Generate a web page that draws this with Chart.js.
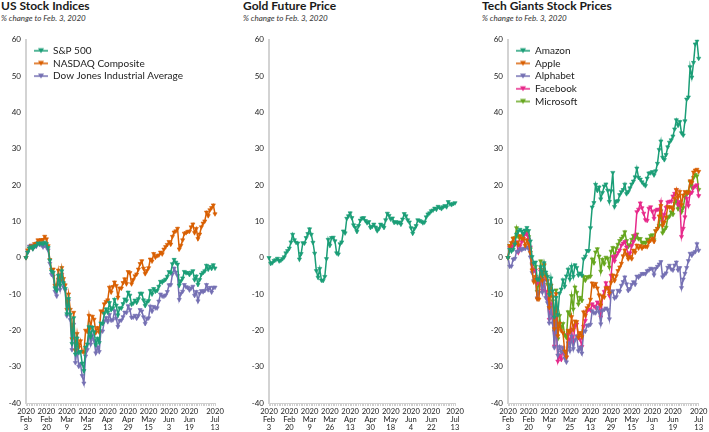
<!DOCTYPE html>
<html><head><meta charset="utf-8">
<script src="https://cdn.jsdelivr.net/npm/chart.js@4.4.1/dist/chart.umd.min.js"></script>
<style>
html,body{margin:0;padding:0;background:#fff;}
#wrap{position:relative;width:709px;height:432px;overflow:hidden;font-family:Lato,sans-serif;}
.t{position:absolute;top:0px;font-weight:700;font-size:12px;line-height:12px;color:#1a1a1a;white-space:nowrap;}
.s{position:absolute;top:13.6px;font-style:italic;font-size:8px;line-height:8px;color:#333;white-space:nowrap;}
canvas{position:absolute;top:30px;}
</style></head>
<body><div id="wrap">
<div class="t" style="left:1px">US Stock Indices</div>
<div class="s" style="left:1px">% change to Feb. 3, 2020</div>
<div class="t" style="left:243px">Gold Future Price</div>
<div class="s" style="left:243px">% change to Feb. 3, 2020</div>
<div class="t" style="left:482px">Tech Giants Stock Prices</div>
<div class="s" style="left:482px">% change to Feb. 3, 2020</div>
<canvas id="c1" width="236" height="402" style="left:0px"></canvas>
<canvas id="c2" width="236" height="402" style="left:236px"></canvas>
<canvas id="c3" width="237" height="402" style="left:472px"></canvas>
</div>
<script>
// ---------- categories ----------
const stockDates = [
"2020-02-03","2020-02-04","2020-02-05","2020-02-06","2020-02-07","2020-02-10","2020-02-11","2020-02-12","2020-02-13","2020-02-14","2020-02-18","2020-02-19","2020-02-20","2020-02-21","2020-02-24","2020-02-25","2020-02-26","2020-02-27","2020-02-28",
"2020-03-02","2020-03-03","2020-03-04","2020-03-05","2020-03-06","2020-03-09","2020-03-10","2020-03-11","2020-03-12","2020-03-13","2020-03-16","2020-03-17","2020-03-18","2020-03-19","2020-03-20","2020-03-23","2020-03-24","2020-03-25","2020-03-26","2020-03-27","2020-03-30","2020-03-31",
"2020-04-01","2020-04-02","2020-04-03","2020-04-06","2020-04-07","2020-04-08","2020-04-09","2020-04-13","2020-04-14","2020-04-15","2020-04-16","2020-04-17","2020-04-20","2020-04-21","2020-04-22","2020-04-23","2020-04-24","2020-04-27","2020-04-28","2020-04-29","2020-04-30",
"2020-05-01","2020-05-04","2020-05-05","2020-05-06","2020-05-07","2020-05-08","2020-05-11","2020-05-12","2020-05-13","2020-05-14","2020-05-15","2020-05-18","2020-05-19","2020-05-20","2020-05-21","2020-05-22","2020-05-26","2020-05-27","2020-05-28","2020-05-29",
"2020-06-01","2020-06-02","2020-06-03","2020-06-04","2020-06-05","2020-06-08","2020-06-09","2020-06-10","2020-06-11","2020-06-12","2020-06-15","2020-06-16","2020-06-17","2020-06-18","2020-06-19","2020-06-22","2020-06-23","2020-06-24","2020-06-25","2020-06-26","2020-06-29","2020-06-30",
"2020-07-01","2020-07-02","2020-07-06","2020-07-07","2020-07-08","2020-07-09","2020-07-10","2020-07-13"];
const goldDates = [
"2020-02-03","2020-02-04","2020-02-05","2020-02-06","2020-02-07","2020-02-10","2020-02-11","2020-02-12","2020-02-13","2020-02-14","2020-02-18","2020-02-19","2020-02-20","2020-02-21","2020-02-24","2020-02-25","2020-02-26","2020-02-27","2020-02-28",
"2020-03-02","2020-03-03","2020-03-04","2020-03-05","2020-03-06","2020-03-09","2020-03-10","2020-03-11","2020-03-12","2020-03-13","2020-03-17","2020-03-18","2020-03-19","2020-03-20","2020-03-23","2020-03-24","2020-03-25","2020-03-26","2020-03-27","2020-03-30","2020-03-31",
"2020-04-01","2020-04-02","2020-04-03","2020-04-06","2020-04-07","2020-04-08","2020-04-09","2020-04-10","2020-04-13","2020-04-14","2020-04-15","2020-04-16","2020-04-17","2020-04-20","2020-04-22","2020-04-23","2020-04-24","2020-04-27","2020-04-28","2020-04-29","2020-04-30",
"2020-05-01","2020-05-04","2020-05-05","2020-05-06","2020-05-07","2020-05-08","2020-05-11","2020-05-12","2020-05-13","2020-05-14","2020-05-15","2020-05-18","2020-05-19","2020-05-20","2020-05-21","2020-05-22","2020-05-26","2020-05-27","2020-05-28","2020-05-29",
"2020-06-01","2020-06-02","2020-06-03","2020-06-04","2020-06-05","2020-06-08","2020-06-09","2020-06-10","2020-06-11","2020-06-12","2020-06-15","2020-06-16","2020-06-17","2020-06-18","2020-06-19","2020-06-22","2020-06-23","2020-06-24","2020-06-25","2020-06-26","2020-06-29","2020-06-30",
"2020-07-01","2020-07-02","2020-07-06","2020-07-07","2020-07-08","2020-07-09","2020-07-10","2020-07-13"];
// indices of the labelled ticks
const stockTickIdx = [0,12,24,36,48,60,72,84,96,111];
const goldTickIdx  = [0,12,24,36,48,60,72,84,96,110];
const yTicks = {min:-40, max:60, step:10};

// ---------- series (% change to Feb. 3, 2020) ----------
const sp500 = [0,1.50,2.64,2.98,2.43,3.18,3.35,4.02,3.85,4.04,3.74,4.22,3.83,2.73,-0.71,-3.72,-4.08,-8.32,-9.07,
-4.88,-7.56,-3.66,-6.92,-8.51,-15.46,-11.29,-15.62,-23.65,-16.56,-26.56,-22.15,-26.19,-25.84,-29.06,-31.13,-24.67,-23.80,-19.05,-21.77,-19.15,-20.45,
-23.96,-22.22,-23.40,-18.01,-18.14,-15.36,-14.13,-15.00,-12.40,-14.33,-13.83,-11.52,-13.10,-15.77,-13.84,-13.89,-12.69,-11.40,-11.87,-9.52,-10.36,
-12.87,-12.50,-11.71,-12.33,-11.32,-9.82,-9.81,-11.66,-13.20,-12.20,-11.86,-9.08,-10.03,-8.54,-9.25,-9.03,-7.92,-6.55,-6.75,-6.30,
-5.95,-5.17,-3.88,-4.20,-1.69,-0.51,-1.28,-1.81,-7.60,-6.39,-5.61,-3.82,-4.17,-4.11,-4.65,-4.03,-3.62,-6.11,-5.08,-7.38,-6.02,-4.57,
-4.10,-3.66,-2.13,-3.19,-2.43,-2.98,-1.97,-2.88];
const nasdaq = [0,2.10,2.54,3.22,2.66,3.83,3.94,4.88,4.73,4.94,4.95,5.86,5.15,3.27,-0.56,-3.32,-3.16,-7.62,-7.61,
-3.46,-6.35,-2.75,-5.77,-7.52,-14.26,-10.02,-14.25,-22.34,-15.08,-25.54,-20.91,-24.62,-22.89,-25.81,-26.02,-20.01,-20.37,-15.92,-19.10,-16.17,-16.97,
-20.63,-19.26,-20.49,-14.67,-14.95,-12.75,-12.08,-11.66,-8.17,-9.49,-7.99,-6.72,-7.69,-10.89,-8.39,-8.40,-6.89,-5.86,-7.18,-3.87,-4.14,
-7.21,-6.07,-5.01,-4.52,-3.17,-1.64,-0.87,-2.92,-4.42,-3.56,-2.79,-0.42,-0.95,1.10,0.12,0.55,0.72,1.50,1.03,2.33,
3.00,3.61,4.42,3.69,5.83,7.02,7.34,8.05,2.37,3.40,4.88,6.71,6.87,7.22,7.25,8.44,9.25,6.86,8.02,5.22,6.48,8.47,
9.50,10.07,12.51,11.54,13.15,13.74,14.49,12.05];
const dowJones = [0,1.44,3.14,3.45,2.47,3.09,3.09,4.05,3.60,3.52,2.93,3.34,2.89,2.09,-1.55,-4.64,-5.08,-9.27,-10.53,
-5.97,-8.74,-4.61,-8.02,-8.93,-16.02,-11.91,-17.07,-25.35,-18.36,-28.91,-25.22,-29.93,-29.27,-32.49,-34.54,-27.09,-25.35,-20.59,-23.81,-21.38,-22.83,
-26.25,-24.60,-25.87,-20.14,-20.23,-17.49,-16.48,-17.64,-15.67,-17.24,-17.12,-14.64,-16.72,-18.95,-17.34,-17.20,-16.28,-15.02,-15.13,-13.26,-14.28,
-16.47,-16.37,-15.90,-16.67,-15.93,-14.33,-14.71,-16.32,-18.14,-16.81,-16.60,-13.39,-14.76,-13.46,-13.82,-13.85,-11.99,-10.04,-10.56,-10.62,
-10.30,-9.36,-7.50,-7.46,-4.54,-2.91,-3.97,-4.96,-11.52,-9.84,-9.28,-7.43,-8.03,-8.17,-8.90,-8.36,-7.90,-10.40,-9.35,-11.92,-9.87,-9.11,
-9.38,-9.06,-7.44,-8.84,-8.21,-9.49,-8.18,-8.15];
const gold = [0,-1.6,-1.4,-0.8,-0.6,-0.2,-0.9,-0.7,-0.3,0.2,1.3,1.9,2.6,4.3,6.4,4.9,4.2,4.0,-0.4,1.1,4.1,4.0,5.5,6.6,7.9,
6.4,4.2,1.2,-3.6,-5.4,-3.0,-6.2,-6.3,-5.2,-0.3,5.0,3.4,
5.5,5.6,4.6,1.3,1.0,3.8,4.3,7.3,6.8,10.8,11.5,12.3,
11.0,9.0,8.3,7.2,8.8,10.3,10.9,11.0,10.2,9.6,9.9,8.3,
8.6,9.2,8.4,7.4,8.0,9.2,8.9,8.3,10.4,12.2,11.6,10.6,
10.9,9.7,9.9,9.6,9.8,9.2,10.6,12.1,11.5,10.4,9.8,8.2,
6.7,8.0,8.8,10.4,10.2,10.0,9.6,9.8,11.2,12.0,12.3,12.9,
13.1,13.6,13.3,14.1,13.8,13.5,14.0,14.3,14.0,15.4,14.8,14.6,14.9,15.1];
const amazon = [0,2.27,1.78,2.30,3.75,6.47,7.31,7.77,7.27,6.52,7.56,8.28,7.43,4.58,0.25,-1.57,-1.23,-5.98,-6.01,
-2.51,-4.75,-1.42,-4.00,-5.14,-10.16,-5.61,-9.15,-16.35,-10.94,-15.72,-9.80,-8.69,-6.15,-7.89,-5.06,-3.20,-5.91,-2.43,-5.19,-2.01,-2.72,
-4.81,-4.26,-4.87,-0.33,0.37,1.94,1.92,8.22,13.93,15.14,20.16,18.50,19.43,16.16,17.93,19.72,20.26,18.55,15.46,18.39,23.44,
14.06,15.56,15.65,17.32,18.13,18.73,20.20,17.60,18.15,19.19,20.24,21.06,22.21,24.63,22.08,21.59,20.84,20.27,19.80,21.86,
23.29,23.36,23.66,22.77,23.89,25.94,29.77,32.09,27.63,26.98,28.36,30.49,31.77,32.42,33.47,35.41,37.93,36.43,37.44,34.36,33.74,37.65,
43.63,44.21,52.53,49.69,53.73,58.80,59.66,54.87];
const apple = [0,3.30,4.14,5.36,3.68,4.18,3.55,6.01,5.25,5.28,3.35,4.85,3.77,1.42,-3.40,-6.67,-5.19,-11.38,-11.44,
-3.19,-6.27,-1.92,-5.10,-6.36,-13.77,-7.56,-10.77,-19.58,-9.94,-21.53,-18.08,-20.08,-20.70,-25.73,-27.31,-20.02,-20.46,-16.27,-19.74,-17.45,-17.61,
-21.95,-20.65,-21.79,-14.96,-15.95,-13.80,-13.18,-11.47,-7.00,-7.85,-7.12,-8.38,-10.28,-13.05,-10.55,-10.90,-8.32,-8.26,-9.75,-6.78,-4.81,
-6.35,-5.02,-3.60,-2.60,-1.59,0.48,2.06,0.89,-0.33,0.29,-0.31,2.04,1.45,3.42,2.65,3.31,2.61,3.06,3.11,3.01,
4.27,4.76,5.33,4.43,7.40,8.03,11.45,14.31,8.83,9.76,11.12,14.07,13.91,13.95,13.30,16.27,18.75,16.65,18.20,14.57,17.21,18.19,
17.96,17.96,21.12,20.74,23.56,24.09,24.31,23.73];
const alphabet = [0,-2.40,-2.32,-0.43,-0.23,1.76,1.77,2.41,2.16,2.57,2.50,2.97,2.40,0.17,-4.12,-6.35,-6.03,-11.10,-9.66,
-6.31,-9.52,-6.48,-11.03,-12.42,-18.01,-13.64,-18.02,-24.80,-17.73,-26.86,-24.47,-26.02,-24.77,-27.67,-28.73,-23.48,-25.64,-21.64,-25.08,-22.65,-21.57,
-25.66,-24.66,-26.30,-20.19,-20.24,-18.59,-18.62,-18.36,-14.66,-15.20,-15.20,-13.73,-14.94,-18.24,-14.57,-14.28,-13.89,-14.30,-16.86,-9.47,-9.17,
-11.15,-10.77,-9.01,-9.25,-7.64,-6.63,-5.33,-7.25,-9.06,-8.53,-7.38,-6.65,-7.36,-5.12,-5.38,-4.87,-4.42,-4.37,-4.44,-3.62,
-3.43,-2.93,-3.12,-4.75,-2.98,-2.43,-1.78,-1.13,-5.31,-4.68,-4.23,-2.69,-2.12,-3.15,-3.43,-2.07,-1.23,-3.41,-2.78,-8.28,-5.91,-4.35,
-2.74,-0.85,1.17,0.66,1.31,1.65,3.80,2.00];
const facebook = [0,2.76,2.90,3.26,3.99,4.34,1.47,3.22,4.38,4.89,6.67,6.51,5.09,2.93,-1.70,-3.63,-3.42,-7.07,-5.74,
-3.80,-8.96,-6.09,-9.31,-11.31,-16.99,-12.73,-16.63,-24.35,-16.61,-28.49,-26.82,-28.03,-25.01,-26.67,-27.47,-21.16,-23.50,-20.01,-23.21,-18.73,-18.31,
-21.84,-22.53,-24.49,-18.92,-17.32,-14.65,-14.20,-14.40,-12.74,-13.33,-13.68,-12.22,-12.71,-16.35,-10.73,-9.33,-6.92,-8.17,-10.42,-4.90,0.25,
-0.94,0.52,1.41,2.10,3.46,4.00,4.40,2.89,0.45,1.28,3.28,4.41,6.21,12.63,13.32,15.04,13.72,12.22,10.42,10.24,
13.58,13.97,12.72,10.82,13.02,13.33,13.23,15.44,9.91,11.94,13.86,15.32,15.49,15.55,16.95,17.68,18.63,14.61,15.42,5.82,8.06,11.21,
16.34,14.32,17.68,17.96,19.29,19.74,20.02,17.05];
const microsoft = [0,3.29,3.17,5.30,5.45,8.21,5.77,5.92,5.35,6.29,7.37,7.40,5.76,2.41,-2.00,-3.62,-2.41,-9.29,-7.09,
-0.91,-5.66,-2.20,-4.65,-7.35,-13.63,-7.72,-11.90,-20.25,-8.92,-22.34,-15.95,-19.49,-18.16,-21.24,-22.02,-14.93,-15.75,-10.48,-14.15,-8.11,-9.56,
-12.77,-10.96,-11.78,-5.22,-6.25,-5.30,-5.30,-5.09,-0.39,-1.43,1.53,2.42,0.39,-3.76,-0.49,-1.70,0.10,-0.19,-2.62,1.75,2.77,
0.11,2.56,3.66,4.68,5.29,5.91,7.09,4.66,3.08,3.53,5.03,6.04,5.30,6.47,5.19,5.24,4.12,4.26,4.03,5.09,
4.85,6.04,6.30,4.90,7.35,8.02,8.84,12.88,6.82,7.66,8.35,11.00,11.39,12.58,11.91,15.02,15.79,13.45,14.89,12.59,13.80,16.70,
17.39,18.28,20.83,19.42,22.05,22.90,22.53,18.75];

const MONTHS = ['Jan','Feb','Mar','Apr','May','Jun','Jul','Aug','Sep','Oct','Nov','Dec'];
function tickLabel(d){ const p = d.split('-'); return [p[0], MONTHS[+p[1]-1], String(+p[2])]; }

function symbol(color){
  const c = document.createElement('canvas'); c.width = 14; c.height = 8;
  const x = c.getContext('2d');
  x.strokeStyle = color; x.lineWidth = 1.5;
  x.beginPath(); x.moveTo(0,4); x.lineTo(14,4); x.stroke();
  x.fillStyle = color; x.beginPath(); x.moveTo(4,1.5); x.lineTo(10,1.5); x.lineTo(7,6.5); x.closePath(); x.fill();
  return c;
}

const legendShift = {
  id: 'legendShift',
  afterLayout(chart){
    const l = chart.legend; if (!l) return;
    const dx = 5.3, dy = 13;
    l.left += dx; l.right += dx; l.top += dy; l.bottom += dy;
  }
};

function makeChart(id, labels, tickIdx, series, pad, showLegend){
  return new Chart(document.getElementById(id), {
    type: 'line',
    data: {
      labels: labels,
      datasets: series.map(s => ({
        label: s.name, data: s.data,
        borderColor: s.color, backgroundColor: s.color,
        pointBackgroundColor: s.color, pointBorderColor: s.color,
        borderWidth: 1.5, tension: 0,
        pointStyle: 'triangle', pointRotation: 180, pointRadius: 2.4, pointBorderWidth: 0.6
      }))
    },
    options: {
      responsive: false, animation: false,
      layout: { padding: pad },
      plugins: {
        tooltip: { enabled: false },
        legend: {
          display: showLegend, position: 'chartArea', align: 'start',
          labels: {
            usePointStyle: true, pointStyleWidth: 14, padding: 2.7,
            color: '#222', font: { family: 'Lato', size: 10 },
            generateLabels(chart){
              const items = Chart.defaults.plugins.legend.labels.generateLabels(chart);
              items.forEach(it => {
                it.pointStyle = symbol(chart.data.datasets[it.datasetIndex].borderColor);
                it.rotation = 0;
              });
              return items;
            }
          }
        }
      },
      scales: {
        x: {
          type: 'category', offset: false,
          grid: { display: true, drawOnChartArea: false, drawTicks: true, tickLength: 3, color: '#cfcfcf' },
          border: { display: true, color: '#cfcfcf', width: 1 },
          ticks: {
            autoSkip: false, maxRotation: 0, minRotation: 0, padding: 1.5, color: '#222',
            font: { family: 'Lato', size: 7.6, lineHeight: 1.06 },
            callback: (v, i) => tickIdx.includes(i) ? tickLabel(labels[i]) : ''
          },
          afterFit: s => { s.height = 29; }
        },
        y: {
          min: yTicks.min, max: yTicks.max,
          ticks: { stepSize: yTicks.step, padding: 5, color: '#222', font: { family: 'Lato', size: 8 } },
          grid: { display: true, drawOnChartArea: false, drawTicks: false },
          border: { display: true, color: '#d3d3d3', width: 2 },
          afterFit: s => { s.width = 24; }
        }
      }
    },
    plugins: [legendShift]
  });
}

function draw(){
  makeChart('c1', stockDates, stockTickIdx, [
    {name:'S&P 500', data: sp500, color:'#1b9e77'},
    {name:'NASDAQ Composite', data: nasdaq, color:'#d95f02'},
    {name:'Dow Jones Industrial Average', data: dowJones, color:'#7570b3'}
  ], {left:2, right:21, top:7, bottom:0}, true);
  makeChart('c2', goldDates, goldTickIdx, [
    {name:'Gold', data: gold, color:'#1b9e77'}
  ], {left:9, right:17, top:7, bottom:0}, false);
  makeChart('c3', stockDates, stockTickIdx, [
    {name:'Amazon', data: amazon, color:'#1b9e77'},
    {name:'Apple', data: apple, color:'#d95f02'},
    {name:'Alphabet', data: alphabet, color:'#7570b3'},
    {name:'Facebook', data: facebook, color:'#e7298a'},
    {name:'Microsoft', data: microsoft, color:'#66a61e'}
  ], {left:12, right:9, top:7, bottom:0}, true);
}
Promise.all([
  document.fonts.load('10px Lato'), document.fonts.load('bold 12px Lato'), document.fonts.load('italic 8px Lato')
]).then(draw, draw);
</script>
</body></html>
